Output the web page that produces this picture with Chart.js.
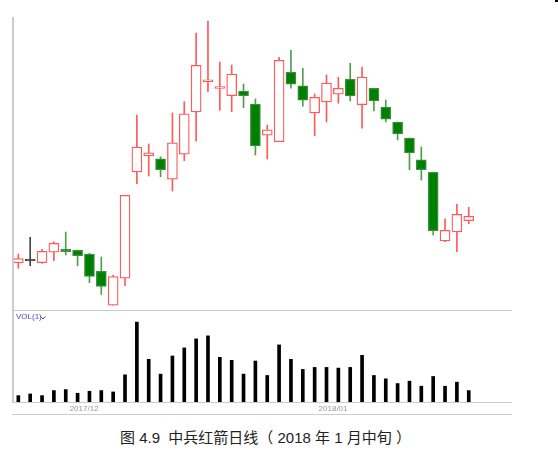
<!DOCTYPE html>
<html>
<head>
<meta charset="utf-8">
<script src="https://cdn.jsdelivr.net/npm/chart.js@4/dist/chart.umd.min.js"></script>
<style>
body{margin:0;background:#fff;width:558px;height:452px;position:relative;overflow:hidden}
#kline{position:absolute;left:0;top:0}
#vol{position:absolute;left:0;top:311px}
#title{position:absolute;left:120px;top:426px;font-family:"Liberation Sans","Noto Sans CJK SC",sans-serif;font-size:15px;color:#222;white-space:pre}
</style>
</head>
<body>
<canvas id="kline" width="558" height="311"></canvas>
<canvas id="vol" width="558" height="104"></canvas>
<div id="title">图 4.9  中兵红箭日线（ 2018 年 1 月中旬 ）</div>
<script>
// 거래일 (2017/11/24 ~ 2018/01/18)
var dates = ['2017-11-24','2017-11-27','2017-11-28','2017-11-29','2017-11-30',
	'2017-12-01','2017-12-04','2017-12-05','2017-12-06','2017-12-07','2017-12-08',
	'2017-12-11','2017-12-12','2017-12-13','2017-12-14','2017-12-15',
	'2017-12-18','2017-12-19','2017-12-20','2017-12-21','2017-12-22',
	'2017-12-25','2017-12-26','2017-12-27','2017-12-28','2017-12-29',
	'2018-01-02','2018-01-03','2018-01-04','2018-01-05',
	'2018-01-08','2018-01-09','2018-01-10','2018-01-11','2018-01-12',
	'2018-01-15','2018-01-16','2018-01-17','2018-01-18'];

var openP  = [6.88,6.96,6.89,7.31,7.43,7.39,7.24,6.55,5.19,6.27,10.52,11.16,11.05,10.23,11.23,12.92,14.13,13.86,13.57,13.76,13.24,11.99,11.73,14.51,13.97,12.88,13.32,13.63,14.23,13.21,13.87,13.12,12.52,11.88,11.01,10.51,7.76,8.12,8.57];
var highP  = [7.24,7.91,7.43,7.73,8.12,7.40,7.27,7.12,6.39,9.59,12.80,11.64,11.13,12.88,13.33,16.08,16.56,14.92,14.80,14.04,13.44,12.39,15.11,15.39,14.67,13.64,14.40,14.31,14.87,14.72,13.87,13.40,12.52,11.88,11.52,10.51,8.65,9.23,9.11];
var lowP   = [6.67,6.77,6.86,6.97,7.20,6.77,6.09,5.62,5.19,5.97,10.05,10.36,10.33,9.76,10.97,11.75,13.73,12.99,12.93,13.09,11.20,11.04,11.73,13.87,13.15,11.97,12.52,13.27,13.36,12.27,12.96,12.52,11.80,10.61,10.20,8.00,7.73,7.33,8.45];
var closeP = [7.06,6.96,7.35,7.67,7.33,7.17,6.34,5.94,6.34,9.59,11.52,11.29,10.61,11.69,12.85,14.79,14.21,13.88,14.44,13.57,11.56,12.21,14.99,14.03,13.39,13.51,14.08,13.87,13.56,14.32,13.36,12.63,12.04,11.28,10.61,8.17,8.19,8.83,8.75];
var volume = [19,24,19,34,37,26,32,34,30,81,238,127,83,137,161,188,197,133,124,83,122,79,170,127,97,103,103,101,103,139,79,69,55,62,47,76,47,59,34];

var UP = '#ff5a5a', DOWN = '#008000', DOWN_LINE = '#4f9f4f', FLAT = '#444';

function kind(i){
	if(closeP[i] > openP[i]) return 'up';
	if(closeP[i] < openP[i]) return 'down';
	return 'flat';
}

// 월 라벨 (월이 바뀌는 첫 거래일)
var monthLabels = [];
for(var i=1;i<dates.length;i++){
	if(dates[i].substr(0,7) != dates[i-1].substr(0,7)){
		monthLabels.push({idx:i, text:dates[i].substr(0,4)+'/'+dates[i].substr(5,2)});
	}
}

var xRange = {type:'linear', min:-0.45, max:41.65, offset:false, display:false};

//K선 프레임
var klineFrame = {
	id:'klineFrame',
	afterDraw:function(chart){
		var ctx = chart.ctx, a = chart.chartArea;
		ctx.save();
		ctx.fillStyle = '#cccccc';
		ctx.fillRect(a.left-1, a.top, 2, a.bottom-a.top+1);
		ctx.fillRect(a.left-1, a.bottom, a.right-a.left+1, 1);
		ctx.fillStyle = '#000';
		ctx.fillRect(555, 0, 3, 2);
		ctx.restore();
	}
};

new Chart(document.getElementById('kline').getContext('2d'), {
	type:'bar',
	data:{
		datasets:[{
			label:'wick',
			data: dates.map(function(d,i){ return {x:i, y:[lowP[i], highP[i]]}; }),
			backgroundColor: dates.map(function(d,i){ var k=kind(i); return k=='up'?UP:(k=='down'?DOWN_LINE:FLAT); }),
			borderWidth:0,
			barThickness:1,
			grouped:false,
			order:2
		},{
			label:'body',
			data: dates.map(function(d,i){ return {x:i, y:[openP[i], closeP[i]]}; }),
			backgroundColor: dates.map(function(d,i){ var k=kind(i); return k=='up'?'#fff':(k=='down'?DOWN:FLAT); }),
			borderColor: dates.map(function(d,i){ var k=kind(i); return k=='up'?UP:(k=='down'?'#3d8f3d':FLAT); }),
			borderWidth:1.3,
			borderSkipped:false,
			barThickness:10,
			minBarLength:2,
			grouped:false,
			order:1
		}]
	},
	options:{
		responsive:false,
		animation:false,
		events:[],
		layout:{padding:{left:13, right:46, top:17, bottom:1}},
		scales:{
			x:xRange,
			y:{min:5, max:16.72, display:false}
		},
		plugins:{legend:{display:false}, tooltip:{enabled:false}}
	},
	plugins:[klineFrame]
});

//거래량 프레임, 라벨
var volFrame = {
	id:'volFrame',
	afterDraw:function(chart){
		var ctx = chart.ctx, a = chart.chartArea, xs = chart.scales.x;
		ctx.save();
		ctx.fillStyle = '#cccccc';
		ctx.fillRect(a.left-1, 0, 2, a.bottom);
		ctx.fillRect(a.left-1, a.bottom, a.right-a.left+1, 1);
		ctx.fillRect(a.left-1, chart.height-1, a.right-a.left+1, 1);

		ctx.fillStyle = '#4a4ac8';
		ctx.font = '8px "Liberation Sans"';
		ctx.textBaseline = 'middle';
		ctx.fillText('VOL(1)', a.left+3, 6);
		ctx.strokeStyle = '#4a4ac8';
		ctx.lineWidth = 1;
		ctx.beginPath();
		ctx.moveTo(40.5, 5.5); ctx.lineTo(43, 8); ctx.lineTo(45.5, 5.5);
		ctx.stroke();

		ctx.fillStyle = '#999';
		ctx.font = '8px "Liberation Sans"';
		monthLabels.forEach(function(m){
			ctx.fillText(m.text, xs.getPixelForValue(m.idx-0.5)-2, a.bottom+7);
		});
		ctx.restore();
	}
};

new Chart(document.getElementById('vol').getContext('2d'), {
	type:'bar',
	data:{
		datasets:[{
			label:'VOL',
			data: dates.map(function(d,i){ return {x:i, y:volume[i]}; }),
			backgroundColor:'#000',
			borderWidth:0,
			barThickness:3
		}]
	},
	options:{
		responsive:false,
		animation:false,
		events:[],
		layout:{padding:{left:13, right:46, top:0, bottom:13}},
		scales:{
			x:xRange,
			y:{min:0, max:271, display:false}
		},
		plugins:{legend:{display:false}, tooltip:{enabled:false}}
	},
	plugins:[volFrame]
});
</script>
</body>
</html>
